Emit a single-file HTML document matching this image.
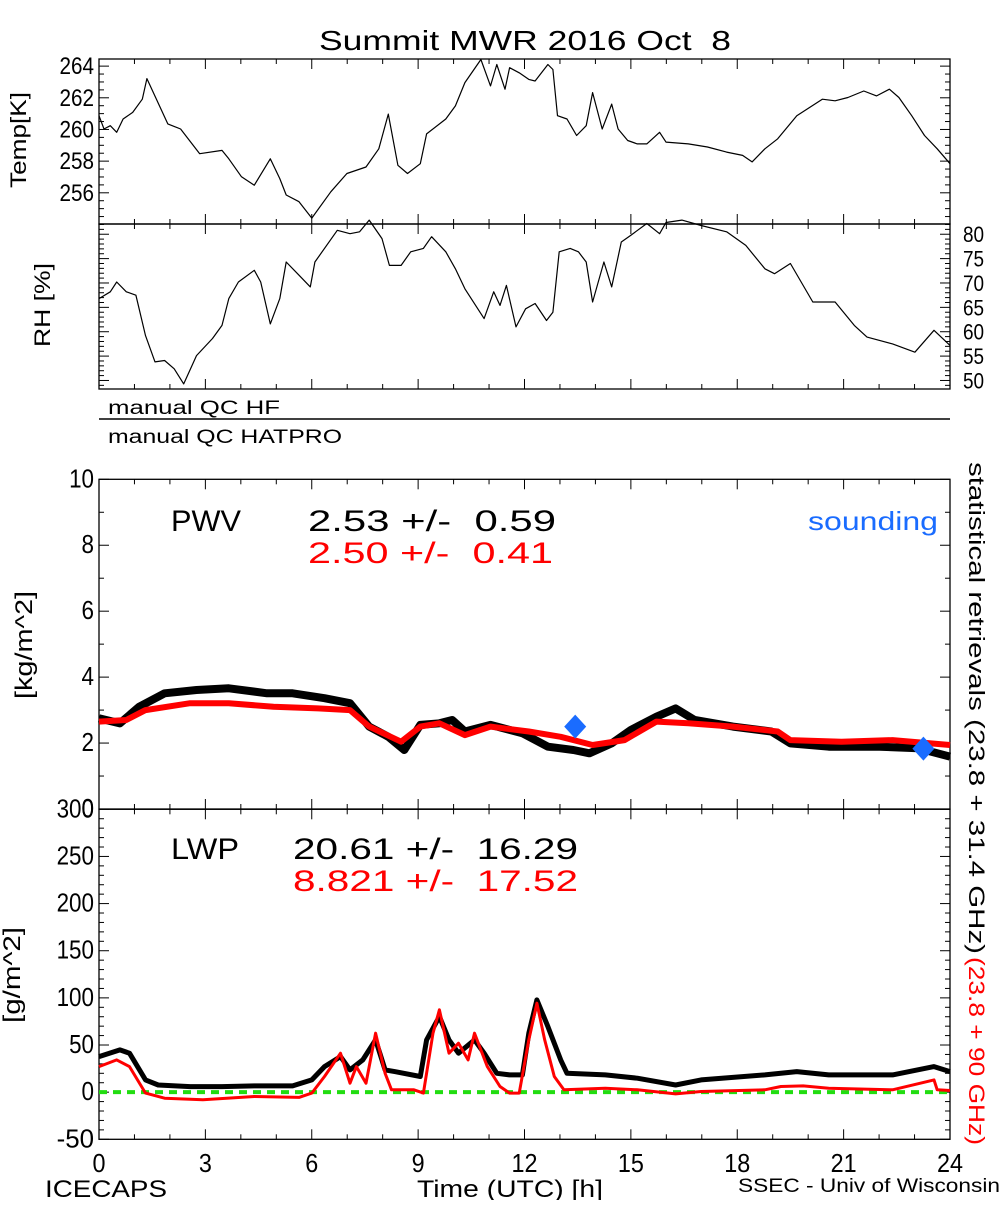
<!DOCTYPE html>
<html><head><meta charset="utf-8"><style>
html,body{margin:0;padding:0;background:#fff}
svg text{font-family:"Liberation Sans",sans-serif}
</style></head><body>
<svg id="chart" width="1000" height="1200" viewBox="0 0 1000 1200" xmlns="http://www.w3.org/2000/svg">
<rect x="0" y="0" width="1000" height="1200" fill="#fff"/>
<text x="525" y="50" font-size="28" text-anchor="middle" textLength="412" lengthAdjust="spacingAndGlyphs" xml:space="preserve">Summit MWR 2016 Oct  8</text>
<text transform="translate(26,140) rotate(-90)" font-size="22" text-anchor="middle" textLength="96" lengthAdjust="spacingAndGlyphs">Temp[K]</text>
<text transform="translate(50,305) rotate(-90)" font-size="22" text-anchor="middle" textLength="84" lengthAdjust="spacingAndGlyphs">RH [%]</text>
<text x="108" y="414" font-size="19" textLength="172" lengthAdjust="spacingAndGlyphs">manual QC HF</text>
<line x1="99" y1="419" x2="950" y2="419" stroke="#000" stroke-width="1.5"/>
<text x="108" y="443" font-size="19" textLength="234" lengthAdjust="spacingAndGlyphs">manual QC HATPRO</text>
<text transform="translate(32,645) rotate(-90)" font-size="24" text-anchor="middle" textLength="108" lengthAdjust="spacingAndGlyphs">[kg/m^2]</text>
<text transform="translate(20,975) rotate(-90)" font-size="24" text-anchor="middle" textLength="96" lengthAdjust="spacingAndGlyphs">[g/m^2]</text>
<text transform="translate(969,462) rotate(90)" font-size="22" textLength="492" lengthAdjust="spacingAndGlyphs">statistical retrievals (23.8 + 31.4 GHz)</text>
<text transform="translate(969,957) rotate(90)" font-size="22" fill="#ff0000" textLength="188" lengthAdjust="spacingAndGlyphs">(23.8 + 90 GHz)</text>
<text x="171" y="531" font-size="30" textLength="70" lengthAdjust="spacingAndGlyphs">PWV</text>
<text x="308" y="531" font-size="30" textLength="248" lengthAdjust="spacingAndGlyphs" xml:space="preserve">2.53 +/-  0.59</text>
<text x="308" y="563" font-size="30" fill="#ff0000" textLength="245" lengthAdjust="spacingAndGlyphs" xml:space="preserve">2.50 +/-  0.41</text>
<text x="938" y="530" font-size="26" fill="#1a6cff" text-anchor="end" textLength="130" lengthAdjust="spacingAndGlyphs">sounding</text>
<text x="171" y="859" font-size="30" textLength="68" lengthAdjust="spacingAndGlyphs">LWP</text>
<text x="293" y="859" font-size="30" textLength="285" lengthAdjust="spacingAndGlyphs" xml:space="preserve">20.61 +/-  16.29</text>
<text x="293" y="891" font-size="30" fill="#ff0000" textLength="285" lengthAdjust="spacingAndGlyphs" xml:space="preserve">8.821 +/-  17.52</text>
<text x="45" y="1197" font-size="24" textLength="122" lengthAdjust="spacingAndGlyphs">ICECAPS</text>
<text x="510" y="1197" font-size="24" text-anchor="middle" textLength="186" lengthAdjust="spacingAndGlyphs">Time (UTC) [h]</text>
<text x="738" y="1192" font-size="19" textLength="262" lengthAdjust="spacingAndGlyphs">SSEC - Univ of Wisconsin</text>
</svg>
<script>
// ---- data ----
const tempHours=[0,0.14,0.32,0.5,0.68,0.95,1.22,1.35,1.94,2.3,2.84,3.47,3.66,4.02,4.38,4.83,5.1,5.28,5.64,6,6.54,6.99,7.53,7.89,8.16,8.43,8.7,9.06,9.24,9.78,10.05,10.32,10.77,11.04,11.22,11.45,11.58,11.85,12.12,12.3,12.66,12.8,12.93,13.2,13.47,13.74,13.92,14.19,14.46,14.64,14.91,15.18,15.45,15.81,15.99,16.62,17.16,17.7,18.15,18.42,18.78,19.14,19.68,20.4,20.76,21.12,21.57,21.93,22.29,22.56,22.92,23.28,23.64,24];
const tempValues=[260.87,260.03,260.24,259.82,260.66,261.08,261.91,263.21,260.35,260.03,258.47,258.68,258.15,257.01,256.48,258.15,256.9,255.86,255.44,254.4,256.07,257.22,257.63,258.78,260.97,257.74,257.22,257.84,259.72,260.66,261.49,262.96,264.42,262.75,264.1,262.54,263.9,263.58,263.16,263.06,264.1,263.79,260.87,260.66,259.62,260.24,262.33,260.03,261.6,260.03,259.3,259.09,259.09,259.82,259.2,259.09,258.89,258.57,258.36,257.95,258.78,259.41,260.87,261.91,261.81,262.02,262.43,262.12,262.54,262.02,260.87,259.62,258.78,257.84];
const rhHours=[0,0.32,0.5,0.77,1.04,1.31,1.58,1.85,2.12,2.39,2.75,3.2,3.47,3.66,3.93,4.38,4.56,4.83,5.1,5.28,5.64,5.96,6.09,6.72,7.08,7.35,7.62,7.98,8.19,8.52,8.79,9.15,9.38,9.78,10.05,10.32,10.86,11.13,11.31,11.49,11.76,12.03,12.3,12.62,12.8,12.98,13.29,13.52,13.74,13.92,14.24,14.46,14.73,15,15.45,15.81,15.99,16.44,16.98,17.7,18.24,18.78,19.05,19.5,20.13,20.76,21.3,21.66,22.38,23.01,23.55,24];
const rhValues=[66.8,68.2,70.2,68.2,67.5,59.2,53.8,54.1,52.4,49.3,55.1,58.6,61.3,66.8,70.2,72.6,70.2,61.6,66.8,74.3,71.6,69.2,74.3,80.8,80.1,80.5,82.9,79.1,73.6,73.6,76.4,77.1,79.5,76.4,72.9,68.8,62.7,68.2,65.4,69.5,61,64.7,65.8,62.3,64,76.4,77.1,76.4,74.3,66.1,74.3,69.2,78.4,79.8,82.2,80.1,82.4,82.9,81.8,80.5,77.7,72.9,71.9,74,66.1,66.1,61.3,58.9,57.5,55.8,60.3,57.2];
const pwvBlackHours=[0,0.59,1.13,1.85,2.75,3.66,4.74,5.46,6.36,7.08,7.62,8.16,8.61,9.06,9.6,9.96,10.32,11.04,11.94,12.66,13.38,13.83,14.46,15,15.72,16.26,16.8,17.88,18.96,19.5,20.58,22.02,23.1,24];
const pwvBlackValues=[2.75,2.6,3.1,3.51,3.61,3.66,3.51,3.51,3.36,3.21,2.5,2.19,1.79,2.55,2.6,2.7,2.35,2.55,2.3,1.89,1.79,1.69,1.99,2.4,2.8,3.05,2.7,2.5,2.35,1.99,1.89,1.89,1.84,1.59];
const pwvRedHours=[0,0.77,1.31,2.57,3.66,4.92,6.18,7.08,7.62,8.52,9.06,9.6,10.32,11.04,12.12,13.02,13.92,14.82,15.72,16.62,17.88,19.14,19.5,20.94,22.38,24];
const pwvRedValues=[2.65,2.7,3,3.21,3.21,3.1,3.05,3,2.5,2.04,2.5,2.6,2.24,2.5,2.35,2.19,1.94,2.09,2.65,2.6,2.5,2.35,2.09,2.04,2.09,1.94];
const soundingHours=[13.43,23.25];
const soundingValues=[2.5,1.83];
const lwpBlackHours=[0,0.59,0.86,1.31,1.67,2.57,3.47,4.38,5.46,6,6.36,6.81,7.08,7.44,7.8,8.07,8.34,9.06,9.24,9.6,9.87,10.14,10.59,10.86,11.22,11.58,11.94,12.12,12.35,12.66,13.02,13.2,14.28,15.18,16.26,16.98,18.78,19.68,20.58,22.38,23.55,24];
const lwpBlackValues=[37.7,44.8,41.3,13,7.6,5.9,5.9,6.6,6.6,13,27.1,37.7,23.6,34.2,55.4,23.6,21.8,16.6,55.4,80.2,55.4,41.3,55.4,41.3,20,18.3,18.3,62.5,97.8,69.5,34.2,20,18.3,14.8,7.6,13,18.3,21.8,18.3,18.3,27.1,21.8];
const lwpRedHours=[0,0.5,0.86,1.31,1.85,2.93,4.38,5.64,6,6.36,6.81,7.08,7.26,7.53,7.8,8.07,8.25,8.88,9.15,9.42,9.6,9.87,10.14,10.41,10.59,10.95,11.31,11.58,11.85,12.12,12.35,12.57,12.84,13.11,14.28,15.18,16.26,16.98,18.78,19.23,19.86,20.58,22.38,23.55,23.64,24];
const lwpRedValues=[27.1,34.2,27.1,-1,-6.4,-8.1,-4.6,-5.6,-1,16.6,41.3,9.5,27.1,9.5,62.5,20,2.5,2.5,-1,62.5,87.3,41.3,51.9,34.2,62.5,27.1,6,-1,-1,55.4,94.3,55.4,16.6,2.5,4.2,2.5,-1.8,0.7,2.5,6,6.6,4.2,2.5,13,2.5,1.8];
const xTickLabels=["0","3","6","9","12","15","18","21","24"];
const tempTickLabels=["256","258","260","262","264"];
const rhTickLabels=["50","55","60","65","70","75","80"];
const pwvTickLabels=["0","2","4","6","8","10"];
const lwpTickLabels=["-50","0","50","100","150","200","250","300"];

// ---- geometry ----
const NS="http://www.w3.org/2000/svg";
const svg=document.getElementById('chart');
const X0=99,X1=950;
const xs=h=>X0+(X1-X0)*h/24;
const panels={
 temp:{top:59,bot:224,v0:254.03,v1:264.45},
 rh:{top:224,bot:389,v0:48.25,v1:82.1},
 pwv:{top:479.3,bot:809,v0:0,v1:10},
 lwp:{top:809.3,bot:1139.3,v0:-50,v1:300}
};
function ys(p,v){const P=panels[p];return P.bot-(v-P.v0)/(P.v1-P.v0)*(P.bot-P.top);}
function mk(tag,attrs,parent){const e=document.createElementNS(NS,tag);for(const k in attrs)e.setAttribute(k,attrs[k]);(parent||svg).appendChild(e);return e;}
function line(x1,y1,x2,y2,w,parent){return mk('line',{x1,y1,x2,y2,stroke:'#000','stroke-width':w||1},parent);}

function frame(p,name){
 const P=panels[p];
 const g=mk('g',{});
 
 
 mk('rect',{x:X0,y:P.top,width:X1-X0,height:P.bot-P.top,fill:'none',stroke:'#000','stroke-width':1.3},g);
 for(let h=0;h<=24;h++){
  const L=(h%3===0)?10:5;const x=xs(h);
  line(x,P.bot,x,P.bot-L,1,g);line(x,P.top,x,P.top+L,1,g);
 }
 return g;
}
function yTicks(p,labels,minorStep,labelSide,fs){
 const P=panels[p];
 const g=mk('g',{});
 
 
 for(let v=Math.ceil(P.v0/minorStep)*minorStep;v<=P.v1+1e-9;v+=minorStep){
  const y=ys(p,v);
  const isMajor=labels.indexOf(String(Math.round(v*100)/100))>=0;
  const L=isMajor?10:5;
  line(X0,y,X0+L,y,1,g);line(X1,y,X1-L,y,1,g);
 }
 labels.forEach(l=>{
  const v=parseFloat(l);const y=ys(p,v);
  const t=mk('text',{x:labelSide==='left'?X0-5:X1+13,y:y+8,'font-size':fs,'text-anchor':labelSide==='left'?'end':'start'},g);
  
  
  t.setAttribute('textLength',(l.length*11.5*fs/24).toFixed(1));
  t.setAttribute('lengthAdjust','spacingAndGlyphs');
  t.textContent=l;
 });
}
frame('temp','temp');frame('rh','rh');frame('pwv','pwv');frame('lwp','lwp');
yTicks('temp',tempTickLabels,0.5,'left',24);
yTicks('rh',rhTickLabels,1,'right',22);
yTicks('pwv',pwvTickLabels,1,'left',26);
yTicks('lwp',lwpTickLabels,10,'left',26);

xTickLabels.forEach(l=>{
 const t=mk('text',{x:xs(parseFloat(l)),y:1172,'font-size':26,'text-anchor':'middle'});
 
 
 t.setAttribute('textLength',(l.length*13).toFixed(0));
 t.setAttribute('lengthAdjust','spacingAndGlyphs');
 t.textContent=l;
});

function series(p,hs,vs,color,w,name){
 const pts=hs.map((h,i)=>xs(h).toFixed(1)+','+ys(p,vs[i]).toFixed(1)).join(' ');
 const e=mk('polyline',{points:pts,fill:'none',stroke:color,'stroke-width':w,'stroke-linejoin':'round'});
 
 
 return e;
}
series('temp',tempHours,tempValues,'#000',1.2,'temp-line');
series('rh',rhHours,rhValues,'#000',1.2,'rh-line');
series('pwv',pwvBlackHours,pwvBlackValues,'#000',8,'pwv-black-line');
series('pwv',pwvRedHours,pwvRedValues,'#ff0000',6,'pwv-red-line');
soundingHours.forEach((h,i)=>{
 const cx=xs(h),cy=ys('pwv',soundingValues[i]);
 const d=mk('polygon',{points:`${cx},${cy-12} ${cx+11},${cy} ${cx},${cy+12} ${cx-11},${cy}`,fill:'#1a6cff'});
 
 
});
const z=mk('line',{x1:X0,y1:ys('lwp',0),x2:X1,y2:ys('lwp',0),stroke:'#22dd11','stroke-width':4,'stroke-dasharray':'8,6'});


series('lwp',lwpBlackHours,lwpBlackValues,'#000',5,'lwp-black-line');
series('lwp',lwpRedHours,lwpRedValues,'#ff0000',3,'lwp-red-line');
</script>
</body></html>
